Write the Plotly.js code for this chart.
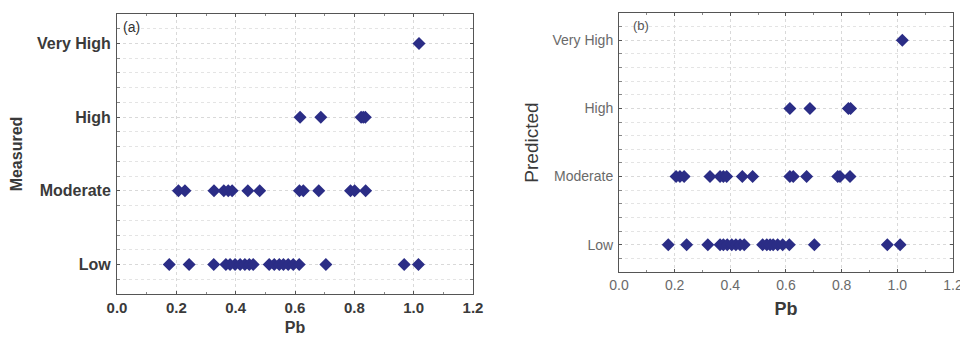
<!DOCTYPE html>
<html>
<head>
<meta charset="utf-8">
<script src="https://cdn.plot.ly/plotly-3.0.1.min.js"></script>
<style>html,body{margin:0;padding:0;background:#fff;}#chart{width:960px;height:339px;}</style>
</head>
<body>
<div id="chart"></div>
<script>
// Category tick labels
const categoryLabels = ["Low", "Moderate", "High", "Very High"];
const categoryLevels = [1, 2, 3, 4];
const xTicks = [0.0, 0.2, 0.4, 0.6, 0.8, 1.0, 1.2];

// Panel (a): Measured class vs Pb
const measLowPb = [0.176, 0.243, 0.326, 0.367, 0.381, 0.398, 0.415, 0.431, 0.446, 0.459, 0.513, 0.530, 0.547, 0.561, 0.577, 0.594, 0.614, 0.704, 0.968, 1.016];
const measModPb = [0.207, 0.229, 0.327, 0.360, 0.375, 0.388, 0.441, 0.481, 0.615, 0.628, 0.680, 0.787, 0.801, 0.838];
const measHighPb = [0.617, 0.687, 0.823, 0.830, 0.837];
const measVHighPb = [1.018];

// Panel (b): Predicted class vs Pb
const predLowPb = [0.177, 0.243, 0.319, 0.363, 0.375, 0.389, 0.405, 0.420, 0.435, 0.450, 0.516, 0.531, 0.543, 0.554, 0.570, 0.588, 0.612, 0.702, 0.964, 1.010];
const predModPb = [0.205, 0.219, 0.234, 0.327, 0.363, 0.375, 0.387, 0.443, 0.480, 0.614, 0.626, 0.674, 0.786, 0.794, 0.830];
const predHighPb = [0.614, 0.686, 0.824, 0.832];
const predVHighPb = [1.018];

const markerColor = "#2b2d86";

function series(xs, level, xa, ya) {
  return {
    x: xs, y: xs.map(() => level), xaxis: xa, yaxis: ya,
    type: "scatter", mode: "markers", showlegend: false, hoverinfo: "x+y",
    marker: {symbol: "diamond", size: 10, color: markerColor, line: {width: 0}}
  };
}

const data = [
  series(measLowPb, categoryLevels[0], "x", "y"),
  series(measModPb, categoryLevels[1], "x", "y"),
  series(measHighPb, categoryLevels[2], "x", "y"),
  series(measVHighPb, categoryLevels[3], "x", "y"),
  series(predLowPb, categoryLevels[0], "x2", "y2"),
  series(predModPb, categoryLevels[1], "x2", "y2"),
  series(predHighPb, categoryLevels[2], "x2", "y2"),
  series(predVHighPb, categoryLevels[3], "x2", "y2")
];

const gridCol = "#d9d9d9";
const frameCol = "#555555";
const fam = "Liberation Sans, Arial, sans-serif";

function xAxis(domain, anchor, fontCfg, titleFont, standoff) {
  return {
    domain: domain, anchor: anchor, range: [0, 1.2],
    tickmode: "array", tickvals: xTicks, ticktext: xTicks.map(v => v.toFixed(1)),
    showgrid: true, gridcolor: gridCol, griddash: "dot", gridwidth: 1,
    zeroline: false, showline: true, linecolor: frameCol, linewidth: 1, mirror: "ticks",
    ticks: "inside", ticklen: 3, tickcolor: frameCol, ticklabeloverflow: "allow",
    minor: {dtick: 0.1, tick0: 0, ticks: "inside", ticklen: 2, tickcolor: "#888", showgrid: false},
    tickfont: fontCfg, fixedrange: true,
    title: {text: "Pb", font: titleFont, standoff: standoff}
  };
}

function yAxis(domain, anchor, fontCfg, title, titleFont, standoff) {
  return {
    domain: domain, anchor: anchor, range: [0.6, 4.4],
    tickmode: "array", tickvals: categoryLevels, ticktext: categoryLabels,
    showgrid: true, gridcolor: gridCol, griddash: "dot", gridwidth: 1,
    zeroline: false, showline: true, linecolor: frameCol, linewidth: 1, mirror: "ticks",
    ticks: "inside", ticklen: 3, tickcolor: frameCol,
    minor: {tick0: 0, dtick: 0.2, ticks: "inside", ticklen: 3, tickcolor: "#888",
            showgrid: true, gridcolor: "#e4e4e4", griddash: "dot", gridwidth: 1},
    tickfont: fontCfg, fixedrange: true, ticklabelstandoff: 2,
    title: {text: title, font: titleFont, standoff: standoff}
  };
}

const fontAy = {family: fam, size: 16, color: "#3a3a3a", weight: "bold"};
const fontAx = {family: fam, size: 15, color: "#3a3a3a", weight: "bold"};
const fontB = {family: fam, size: 14, color: "#6a6a6a"};

const layout = {
  width: 960, height: 339,
  margin: {l: 0, r: 0, t: 0, b: 0},
  paper_bgcolor: "#ffffff", plot_bgcolor: "#ffffff",
  xaxis: Object.assign(xAxis([0.1219, 0.4927], "y", fontAx, {family: fam, size: 16, color: "#3a3a3a", weight: "bold"}, 6)),
  yaxis: yAxis([0.1327, 0.9587], "x", fontAy, "Measured", {family: fam, size: 16, color: "#3a3a3a", weight: "bold"}, 10),
  xaxis2: xAxis([0.6448, 0.9927], "y2", fontB, {family: fam, size: 18, color: "#3a3a3a", weight: "bold"}, 10),
  yaxis2: yAxis([0.1976, 0.9617], "x2", fontB, "Predicted", {family: fam, size: 19, color: "#3a3a3a"}, 8),
  annotations: [
    {text: "(a)", xref: "x domain", yref: "y domain", x: 0.012, y: 0.99, xanchor: "left", yanchor: "top",
     showarrow: false, font: {family: fam, size: 14, color: "#333"}},
    {text: "(b)", xref: "x2 domain", yref: "y2 domain", x: 0.035, y: 0.99, xanchor: "left", yanchor: "top",
     showarrow: false, font: {family: fam, size: 13, color: "#555"}}
  ]
};

Plotly.newPlot("chart", data, layout, {displayModeBar: false, staticPlot: true});
</script>
</body>
</html>
